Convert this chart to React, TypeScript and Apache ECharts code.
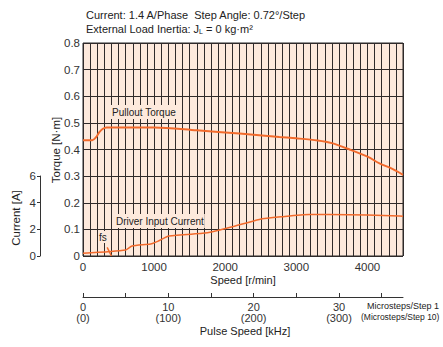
import React, { useEffect, useRef } from "react";
import * as echarts from "echarts";

const FONT = "'Liberation Sans', Arial, sans-serif";

// Pullout torque curve (speed r/min, torque N·m)
const torqueSpeed = [0, 130, 180, 230, 280, 330, 1000, 1600, 2200, 2760, 3000, 3300, 3500, 3750, 4000, 4170, 4350, 4500];
const torqueValue = [0.435, 0.435, 0.445, 0.465, 0.478, 0.483, 0.483, 0.472, 0.46, 0.447, 0.442, 0.434, 0.424, 0.4, 0.373, 0.348, 0.327, 0.305];

// Driver input current (speed r/min, current A)
const currentSpeed = [0, 600, 690, 950, 1050, 1210, 1680, 1820, 2100, 2480, 2800, 3180, 3460, 4000, 4450, 4500];
const currentValue = [0.2, 0.45, 0.75, 0.9, 1.1, 1.5, 1.7, 1.82, 2.2, 2.75, 2.95, 3.12, 3.12, 3.08, 3.0, 2.98];

// fs marker
const fsSpeed = [340, 400];
const fsCurrent = [0.65, 0];

// Axis ticks
const torqueTicks = [0, 0.1, 0.2, 0.3, 0.4, 0.5, 0.6, 0.7, 0.8];
const speedLabels = [0, 1000, 2000, 3000, 4000];
const currentTicks = [0, 2, 4, 6];
const pulseTicks = [0, 5, 10, 15, 20, 25, 30, 35];
const pulseLabels = [0, 10, 20, 30];

const ORANGE = "#f26a2c";

export default function App() {
  const ref = useRef<HTMLDivElement>(null);
  useEffect(() => {
    if (!ref.current) return;
    const chart = echarts.init(ref.current, undefined, { renderer: "svg" });
    const txt = (o: any) => ({ type: "text", z: 100, ...o, style: { fontFamily: FONT, fill: "#222", ...o.style } });
    chart.setOption({
      animation: false,
      textStyle: { fontFamily: FONT },
      grid: [
        { left: 83, top: 43, width: 320, height: 213, show: true, backgroundColor: "#fde9dc", borderColor: "#2a2a2a", borderWidth: 1 },
        { left: 40, top: 176, width: 10, height: 80, show: false },
        { left: 83, top: 296, width: 320, height: 1, show: false },
      ],
      xAxis: [
        {
          gridIndex: 0, type: "value", min: 0, max: 4500, interval: 100,
          axisLine: { show: false }, axisTick: { show: false },
          splitLine: { show: true, lineStyle: { color: "#2f2a2a", width: 1 } },
          axisLabel: {
            customValues: speedLabels,
            formatter: (v: number) => String(v), margin: 5, fontSize: 11.5, color: "#333",
          },
        },
        { gridIndex: 1, type: "value", show: false, min: 0, max: 1 },
        {
          gridIndex: 2, type: "value", min: 0, max: 37.5, interval: 5, position: "bottom",
          axisLine: { show: true, lineStyle: { color: "#333", width: 1 } },
          axisTick: { show: true, inside: true, length: 4, customValues: pulseTicks, lineStyle: { color: "#333" } },
          splitLine: { show: false },
          axisLabel: {
            customValues: pulseLabels,
            formatter: (v: number) => `${v}\n(${v * 10})`,
            margin: 4, fontSize: 11, lineHeight: 11, color: "#333",
          },
        },
      ],
      yAxis: [
        {
          gridIndex: 0, type: "value", min: 0, max: 0.8, interval: 0.1,
          axisLine: { show: false }, axisTick: { show: false },
          splitLine: { show: true, lineStyle: { color: "#2f2a2a", width: 1 } },
          axisLabel: {
            customValues: torqueTicks,
            formatter: (v: number) => (v === 0 ? "0" : v.toFixed(1)), margin: 3, fontSize: 11.5, color: "#333",
          },
        },
        { gridIndex: 0, type: "value", min: 0, max: 16, show: false, splitLine: { show: false } },
        {
          gridIndex: 1, type: "value", min: 0, max: 6, interval: 2,
          axisLine: { show: true, lineStyle: { color: "#333", width: 1 } },
          axisTick: { show: true, length: 3, lineStyle: { color: "#333" } },
          splitLine: { show: false },
          axisLabel: { customValues: currentTicks, margin: 4, fontSize: 11.5, color: "#333" },
        },
        { gridIndex: 2, type: "value", show: false, min: 0, max: 1 },
      ],
      series: [
        {
          type: "line", xAxisIndex: 0, yAxisIndex: 0, symbol: "none", smooth: 0.3,
          data: torqueSpeed.map((s, i) => [s, torqueValue[i]]),
          lineStyle: { color: ORANGE, width: 2 }, z: 5,
        },
        {
          type: "line", xAxisIndex: 0, yAxisIndex: 1, symbol: "none", smooth: 0.2,
          data: currentSpeed.map((s, i) => [s, currentValue[i]]),
          lineStyle: { color: ORANGE, width: 1.5 }, z: 5,
        },
        {
          type: "line", xAxisIndex: 0, yAxisIndex: 1, symbol: "none",
          data: fsSpeed.map((s, i) => [s, fsCurrent[i]]),
          lineStyle: { color: ORANGE, width: 1.5 }, z: 5,
        },
      ],
      graphic: [
        txt({ x: 86, y: 15, style: { text: "Current: 1.4 A/Phase  Step Angle: 0.72°/Step", fontSize: 11, verticalAlign: "middle" } }),
        txt({
          x: 86, y: 29,
          style: {
            text: "External Load Inertia: J{s|L} = 0 kg·m²", fontSize: 11, verticalAlign: "middle",
            rich: { s: { fontSize: 7, verticalAlign: "bottom", fontFamily: FONT, fill: "#222" } },
          },
        }),
        txt({ x: 56, y: 150, rotation: Math.PI / 2, style: { text: "Torque [N·m]", fontSize: 11.5, align: "center", verticalAlign: "middle" } }),
        txt({ x: 16, y: 218, rotation: Math.PI / 2, style: { text: "Current [A]", fontSize: 11.5, align: "center", verticalAlign: "middle" } }),
        txt({ x: 243, y: 280, style: { text: "Speed [r/min]", fontSize: 11, align: "center", verticalAlign: "middle" } }),
        txt({ x: 245, y: 331, style: { text: "Pulse Speed [kHz]", fontSize: 11, align: "center", verticalAlign: "middle" } }),
        txt({ x: 367, y: 306, style: { text: "Microsteps/Step 1", fontSize: 9, verticalAlign: "middle" } }),
        txt({ x: 361, y: 317, style: { text: "(Microsteps/Step 10)", fontSize: 8.5, verticalAlign: "middle" } }),
        txt({ x: 111, y: 112, style: { text: "Pullout Torque", fontSize: 10, verticalAlign: "middle", backgroundColor: "#fde9dc", padding: [2, 1] } }),
        txt({ x: 115, y: 221, style: { text: "Driver Input Current", fontSize: 10, verticalAlign: "middle", backgroundColor: "#fde9dc", padding: [2, 1] } }),
        txt({ x: 98, y: 237, style: { text: "fs", fontSize: 10, verticalAlign: "middle", backgroundColor: "#fde9dc", padding: [1, 1] } }),
      ],
    });
    return () => chart.dispose();
  }, []);
  return <div ref={ref} style={{ position: "absolute", left: 0, top: 0, width: 443, height: 347 }} />;
}
